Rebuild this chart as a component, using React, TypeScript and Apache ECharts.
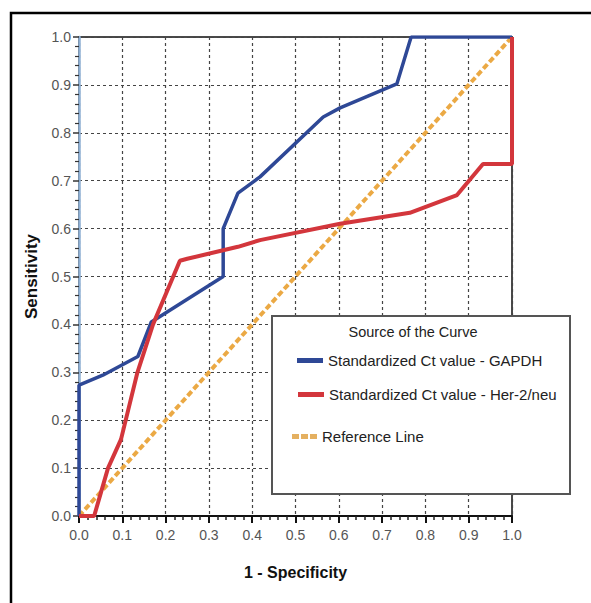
import React, { useEffect, useRef } from "react";
import * as echarts from "echarts";

const tickLabels = ["0.0", "0.1", "0.2", "0.3", "0.4", "0.5", "0.6", "0.7", "0.8", "0.9", "1.0"];

const seriesNames = [
  "Standardized Ct value - GAPDH",
  "Standardized Ct value - Her-2/neu",
  "Reference Line",
];

// [1 - specificity, sensitivity]
const gapdhPoints: number[][] = [
  [0, 0], [0, 0.273], [0.055, 0.294], [0.136, 0.333], [0.167, 0.405],
  [0.333, 0.5], [0.333, 0.6], [0.367, 0.674], [0.418, 0.708], [0.564, 0.833],
  [0.603, 0.852], [0.734, 0.902], [0.767, 1], [1, 1],
];

const her2Points: number[][] = [
  [0, 0], [0.035, 0], [0.067, 0.1], [0.097, 0.16], [0.135, 0.3], [0.171, 0.4],
  [0.233, 0.533], [0.25, 0.537], [0.367, 0.562], [0.418, 0.576], [0.603, 0.61],
  [0.764, 0.633], [0.873, 0.67], [0.933, 0.735], [1, 0.735], [1, 1],
];

const referencePoints: number[][] = [[0, 0], [1, 1]];

const FONT = "'Liberation Sans', Arial, sans-serif";

export default function App() {
  const ref = useRef<HTMLDivElement>(null);
  useEffect(() => {
    if (!ref.current) return;
    const chart = echarts.init(ref.current, null, { renderer: "svg" });
    const fmt = (v: number) => tickLabels[Math.round(v * 10)] ?? v.toFixed(1);
    const legendCommon = {
      orient: "vertical",
      padding: 0,
      itemHeight: 5,
      selectedMode: false,
      textStyle: { fontSize: 15, color: "#222", fontFamily: FONT },
    };
    chart.setOption({
      animation: false,
      backgroundColor: "#fff",
      grid: {
        left: 79, top: 37, width: 433, height: 479,
        show: true, borderColor: "#4a4a4a", borderWidth: 2, backgroundColor: "transparent",
      },
      xAxis: {
        type: "value", min: 0, max: 1, interval: 0.1,
        name: "1 - Specificity", nameLocation: "middle", nameGap: 48,
        nameTextStyle: { fontSize: 16, fontWeight: "bold", color: "#111", fontFamily: FONT },
        axisLine: { show: true, lineStyle: { color: "#111", width: 2 } },
        axisTick: { show: true, length: 7, lineStyle: { color: "#111", width: 2 } },
        minorTick: { show: true, splitNumber: 5, length: 4, lineStyle: { color: "#222", width: 1.5 } },
        axisLabel: { formatter: fmt, fontSize: 14, color: "#555", margin: 12, fontFamily: FONT },
        splitLine: { show: true, lineStyle: { color: "#444", type: [3, 3], width: 1.2 } },
      },
      yAxis: {
        type: "value", min: 0, max: 1, interval: 0.1,
        name: "Sensitivity", nameLocation: "middle", nameGap: 39, nameRotate: 90,
        nameTextStyle: { fontSize: 17, fontWeight: "bold", color: "#111", fontFamily: FONT },
        axisLine: { show: true, lineStyle: { color: "#8fb0d4", width: 2.5 } },
        axisTick: { show: true, length: 6, lineStyle: { color: "#333", width: 1.5 } },
        minorTick: { show: true, splitNumber: 5, length: 4, lineStyle: { color: "#333", width: 1.2 } },
        axisLabel: { formatter: fmt, fontSize: 14, color: "#555", margin: 8, fontFamily: FONT },
        splitLine: { show: true, lineStyle: { color: "#444", type: [3, 3], width: 1.2 } },
      },
      legend: [
        { ...legendCommon, data: [seriesNames[0]], left: 297, top: 353, itemWidth: 26, icon: "rect", z: 10 },
        { ...legendCommon, data: [seriesNames[1]], left: 298, top: 387, itemWidth: 26, icon: "rect", z: 10 },
        {
          ...legendCommon, data: [seriesNames[2]], left: 292, top: 429, itemWidth: 25, z: 10,
          icon: "path://M0,0h7v5h-7z M9,0h7v5h-7z M18,0h7v5h-7z",
        },
      ],
      graphic: [
        {
          type: "rect", z: 8,
          shape: { x: 272, y: 316, width: 298, height: 178 },
          style: { fill: "#fff", stroke: "#555", lineWidth: 2 },
        },
        {
          type: "text", z: 9, x: 413, y: 332,
          style: {
            text: "Source of the Curve", fontSize: 14.5, fill: "#222", fontFamily: FONT,
            align: "center", verticalAlign: "middle",
          },
        },
        {
          type: "rect", z: 20, silent: true,
          shape: { x: 11, y: 13, width: 700, height: 700 },
          style: { fill: "none", stroke: "#000", lineWidth: 2.5 },
        },
      ],
      series: [
        {
          name: seriesNames[2], type: "line", data: referencePoints, symbol: "none", z: 2,
          lineStyle: { color: "#eba944", width: 4, type: [6, 3] },
          itemStyle: { color: "#e4b060" },
        },
        {
          name: seriesNames[0], type: "line", data: gapdhPoints, symbol: "none", z: 3,
          lineStyle: { color: "#2e4896", width: 3.5 },
          itemStyle: { color: "#2e4896" },
        },
        {
          name: seriesNames[1], type: "line", data: her2Points, symbol: "none", z: 3,
          lineStyle: { color: "#d3363c", width: 4 },
          itemStyle: { color: "#d3363c" },
        },
      ],
    });
    return () => chart.dispose();
  }, []);
  return (
    <div
      ref={ref}
      style={{ position: "absolute", left: 0, top: 0, width: 591, height: 603 }}
    />
  );
}
